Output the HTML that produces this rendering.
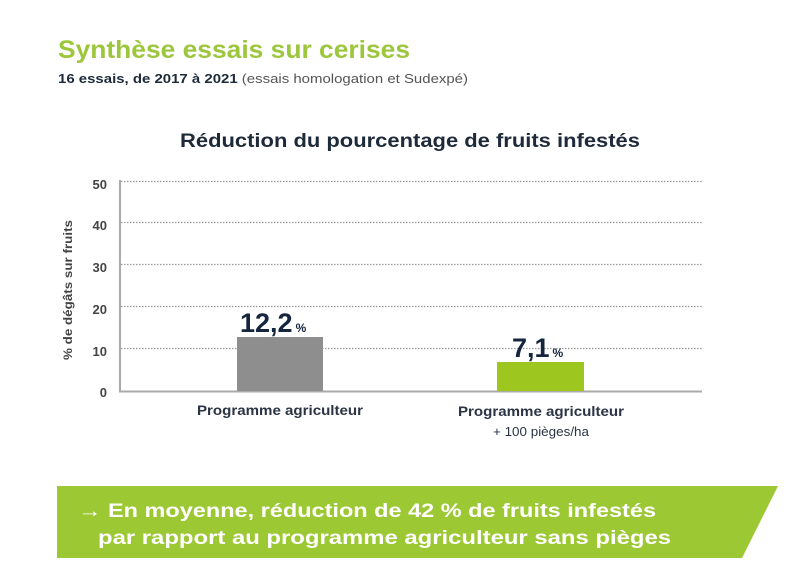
<!DOCTYPE html>
<html><head><meta charset="utf-8"><style>
body{margin:0;width:800px;height:572px;background:#fff;overflow:hidden;font-family:"Liberation Sans",sans-serif;position:relative}
</style></head><body>
<svg width="800" height="572" style="position:absolute;left:0;top:0" font-family="Liberation Sans">
<text x="58" y="58" font-size="25" font-weight="bold" fill="#9cc63c" textLength="352" lengthAdjust="spacingAndGlyphs">Synthèse essais sur cerises</text>
<text x="58" y="83" font-size="13" fill="#555" textLength="410" lengthAdjust="spacingAndGlyphs"><tspan font-weight="bold" fill="#1e2a3a">16 essais, de 2017 à 2021</tspan> (essais homologation et Sudexpé)</text>
<text x="180" y="147" font-size="19" font-weight="bold" fill="#1e2a3a" textLength="460" lengthAdjust="spacingAndGlyphs">Réduction du pourcentage de fruits infestés</text>
<g stroke="#999" stroke-width="1.2" stroke-dasharray="1.5 1.5">
<line x1="121" y1="181.5" x2="702" y2="181.5"/>
<line x1="121" y1="222.5" x2="702" y2="222.5"/>
<line x1="121" y1="264.5" x2="702" y2="264.5"/>
<line x1="121" y1="306.5" x2="702" y2="306.5"/>
<line x1="121" y1="348.5" x2="702" y2="348.5"/>
</g>
<line x1="120" y1="180" x2="120" y2="392" stroke="#aaa" stroke-width="2"/>
<line x1="119" y1="391.5" x2="702" y2="391.5" stroke="#aaa" stroke-width="2"/>
<rect x="237" y="337" width="86" height="54" fill="#8e8e8e"/>
<rect x="497" y="362" width="87" height="29" fill="#9dc61f"/>
<g font-weight="bold" font-size="13" fill="#444" text-anchor="end">
<text x="107" y="189">50</text><text x="107" y="230">40</text><text x="107" y="272">30</text><text x="107" y="314">20</text><text x="107" y="356">10</text><text x="107" y="397">0</text>
</g>
<text transform="translate(72,290) rotate(-90)" text-anchor="middle" font-weight="bold" font-size="12" fill="#444" textLength="140" lengthAdjust="spacingAndGlyphs">% de dégâts sur fruits</text>
<text x="240" y="332" font-weight="bold" font-size="27" fill="#15253d">12,2<tspan font-size="12" dx="3">%</tspan></text>
<text x="512" y="357" font-weight="bold" font-size="27" fill="#15253d">7,1<tspan font-size="12" dx="3">%</tspan></text>
<text x="280" y="415" text-anchor="middle" font-weight="bold" font-size="14" fill="#2a3444" textLength="166" lengthAdjust="spacingAndGlyphs">Programme agriculteur</text>
<text x="541" y="416" text-anchor="middle" font-weight="bold" font-size="14" fill="#2a3444" textLength="166" lengthAdjust="spacingAndGlyphs">Programme agriculteur</text>
<text x="541" y="436" text-anchor="middle" font-size="13" fill="#2a3444" textLength="96" lengthAdjust="spacingAndGlyphs">+ 100 pièges/ha</text>
<polygon points="57,486 778,486 742,558 57,558" fill="#9cc833"/>
<text x="78" y="517" font-weight="bold" font-size="19" fill="#fff" textLength="578" lengthAdjust="spacingAndGlyphs">→ En moyenne, réduction de 42 % de fruits infestés</text>
<text x="98" y="544" font-weight="bold" font-size="19" fill="#fff" textLength="573" lengthAdjust="spacingAndGlyphs">par rapport au programme agriculteur sans pièges</text>
</svg>
</body></html>
